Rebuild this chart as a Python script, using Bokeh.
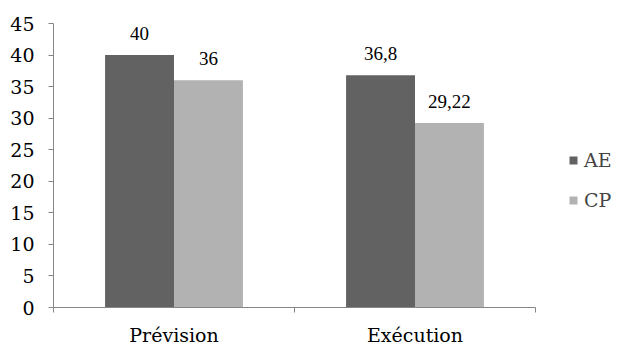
from bokeh.plotting import figure
from bokeh.models import ColumnDataSource, Range1d, FixedTicker, Legend, LegendItem, LabelSet
from bokeh.transform import dodge
from bokeh.embed import file_html
from bokeh.resources import INLINE

categories = ["Prévision", "Exécution"]
series_names = ["AE", "CP"]
ae_values = [40, 36.8]
cp_values = [36, 29.22]
y_ticks = [0, 5, 10, 15, 20, 25, 30, 35, 40, 45]

FONT = "DejaVu Serif"
FS = "19px"
DARK = "#626262"
LIGHT = "#b2b2b2"
AXIS = "#868686"

def fmt(v):
    s = ("%g" % v)
    return s.replace(".", ",")

xpos = [i + 0.5 for i in range(len(categories))]
src = ColumnDataSource(dict(
    x=xpos, ae=ae_values, cp=cp_values,
    ae_lbl=[fmt(v) for v in ae_values],
    cp_lbl=[fmt(v) for v in cp_values],
))

p = figure(output_backend="svg", toolbar_location=None,
           frame_width=482, frame_height=284,
           min_border_left=53, min_border_right=91, min_border_top=23, min_border_bottom=45,
           x_range=Range1d(0, len(categories)), y_range=Range1d(0, 45))
p.outline_line_color = None
p.xgrid.visible = False
p.ygrid.visible = False

bw = 0.286
r1 = p.vbar(x=dodge("x", -bw / 2, range=p.x_range), top="ae", width=bw, source=src,
            fill_color=DARK, line_color=None)
r2 = p.vbar(x=dodge("x", bw / 2, range=p.x_range), top="cp", width=bw, source=src,
            fill_color=LIGHT, line_color=None)

for col, lbl, off in (("ae", "ae_lbl", -bw / 2), ("cp", "cp_lbl", bw / 2)):
    ls = LabelSet(x=dodge("x", off, range=p.x_range), y=col, text=lbl, source=src,
                  text_align="center", text_baseline="alphabetic", y_offset=15,
                  text_font=FONT, text_font_size=FS, text_color="#000000")
    p.add_layout(ls)

# y axis
p.yaxis.ticker = FixedTicker(ticks=y_ticks)
p.yaxis.axis_line_color = AXIS
p.yaxis.major_tick_line_color = AXIS
p.yaxis.major_tick_out = 5
p.yaxis.major_tick_in = 0
p.yaxis.minor_tick_line_color = None
p.yaxis.major_label_text_font = FONT
p.yaxis.major_label_text_font_size = FS
p.yaxis.major_label_text_color = "#000000"
p.yaxis.major_label_standoff = 14

# x axis
p.xaxis.ticker = FixedTicker(ticks=xpos, minor_ticks=list(range(len(categories) + 1)))
p.xaxis.major_label_overrides = {x: c for x, c in zip(xpos, categories)}
p.xaxis.axis_line_color = AXIS
p.xaxis.major_tick_line_color = None
p.xaxis.minor_tick_line_color = AXIS
p.xaxis.minor_tick_out = 5
p.xaxis.minor_tick_in = 0
p.xaxis.major_label_text_font = FONT
p.xaxis.major_label_text_font_size = FS
p.xaxis.major_label_text_color = "#000000"
p.xaxis.major_label_standoff = 10

legend = Legend(items=[LegendItem(label=series_names[0], renderers=[r1]),
                       LegendItem(label=series_names[1], renderers=[r2])],
                location=(33, 95), orientation="vertical",
                glyph_width=10, glyph_height=10, label_height=24, spacing=16,
                label_text_font=FONT, label_text_font_size=FS,
                label_standoff=6, border_line_color=None, background_fill_alpha=0,
                padding=0, margin=0)
p.add_layout(legend, "right")

html = file_html(p, INLINE)
open("out.html", "w").write(html)
